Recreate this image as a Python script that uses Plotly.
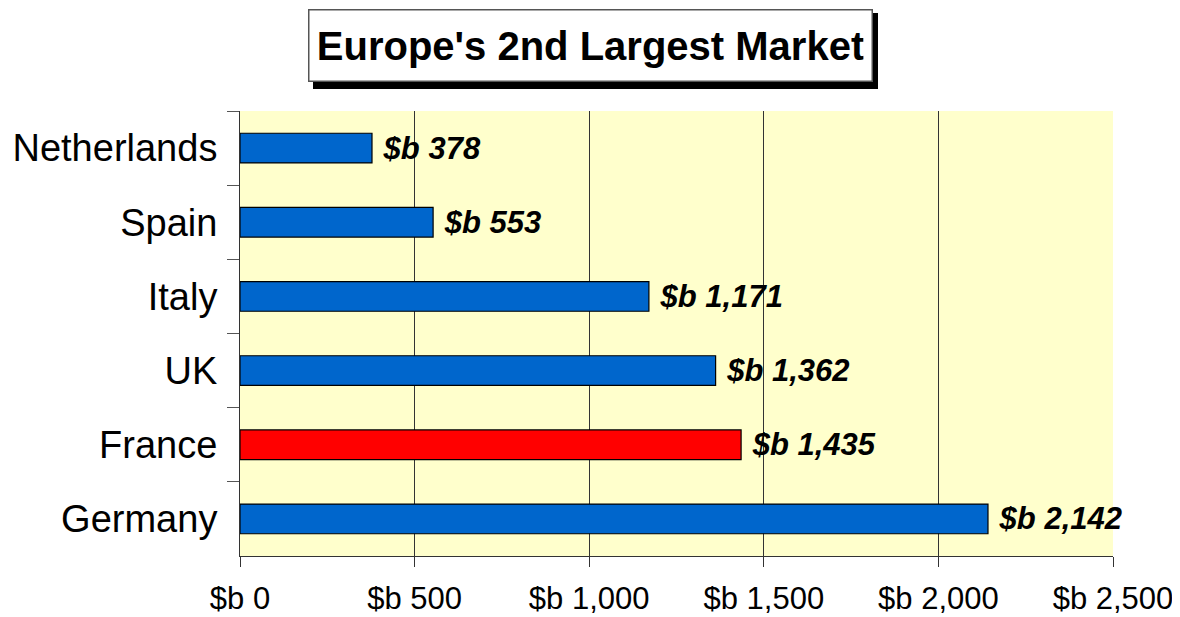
import plotly.graph_objects as go

countries = ["Netherlands", "Spain", "Italy", "UK", "France", "Germany"]
values = [378, 553, 1171, 1362, 1435, 2142]
bar_colors = ["#0066CC", "#0066CC", "#0066CC", "#0066CC", "#FF0000", "#0066CC"]
value_labels = ["$b 378", "$b 553", "$b 1,171", "$b 1,362", "$b 1,435", "$b 2,142"]
x_tickvals = [0, 500, 1000, 1500, 2000, 2500]
x_ticktext = ["$b 0", "$b 500", "$b 1,000", "$b 1,500", "$b 2,000", "$b 2,500"]
title_text = "Europe's 2nd Largest Market"

FONT = "Arial, Liberation Sans, sans-serif"

fig = go.Figure()
fig.add_trace(go.Bar(
    y=countries,
    x=values,
    orientation="h",
    width=0.4,
    marker=dict(color=bar_colors, line=dict(color="#000000", width=1.2)),
    text=[" " + t for t in value_labels],
    textposition="outside",
    constraintext="none",
    cliponaxis=False,
    textfont=dict(family=FONT, size=31, color="#000000", weight="bold", style="italic"),
    hoverinfo="skip",
))

fig.update_layout(
    width=1172,
    height=609,
    margin=dict(l=232, r=67, t=103, b=61, autoexpand=False),
    paper_bgcolor="#FFFFFF",
    plot_bgcolor="#FFFFCC",
    showlegend=False,
    xaxis=dict(
        range=[0, 2500],
        tickvals=x_tickvals,
        ticktext=x_ticktext,
        showgrid=True,
        gridcolor="#333333",
        gridwidth=1,
        zeroline=False,
        showline=True,
        linecolor="#333333",
        linewidth=1,
        ticks="outside",
        ticklen=10,
        tickcolor="#333333",
        tickfont=dict(family=FONT, size=31, color="#000000"),
        ticklabelstandoff=5,
        automargin=False,
        fixedrange=True,
    ),
    yaxis=dict(
        autorange="reversed",
        showgrid=False,
        showline=True,
        linecolor="#333333",
        linewidth=1,
        ticks="outside",
        ticklen=12,
        tickcolor="#555555",
        tickson="boundaries",
        tickfont=dict(family=FONT, size=38, color="#000000"),
        ticklabelstandoff=14,
        automargin=False,
        fixedrange=True,
    ),
)

# title shadow
fig.add_shape(
    type="rect", xref="paper", yref="paper",
    x0=(313 - 240) / 873, x1=(878 - 240) / 873,
    y0=(556 - 89) / 445, y1=(556 - 13) / 445,
    fillcolor="#000000", line=dict(width=0), layer="above",
)
fig.add_annotation(
    xref="paper", yref="paper",
    x=(590 - 240) / 873, y=(556 - 45.5) / 445,
    xanchor="center", yanchor="middle",
    text="<b>" + title_text + "</b>",
    showarrow=False,
    font=dict(family=FONT, size=40, color="#000000"),
    bgcolor="#FFFFFF",
    bordercolor="#555555",
    borderwidth=1.5,
    borderpad=8,
    width=546,
    height=54,
)

fig.write_html("out.html")
